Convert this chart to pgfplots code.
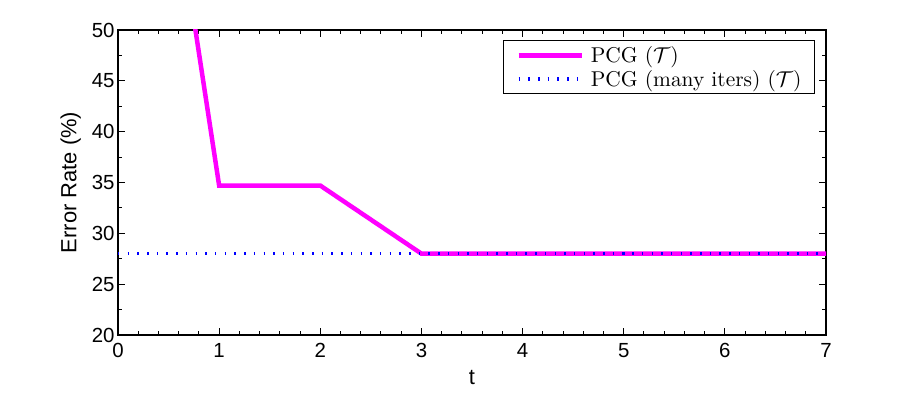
\documentclass[border=0pt]{standalone}
\usepackage{fontspec}
\setsansfont{Liberation Sans}
\usepackage{graphicx}
\usepackage{pgfplots}
\pgfplotsset{compat=1.18}
\definecolor{pcgmag}{RGB}{255,0,255}
\definecolor{pcgblue}{RGB}{0,0,255}
\pgfplotsset{longlegend/.style={legend image code/.code={\draw[##1] (0bp,0bp) -- (63bp,0bp);}}}
% text is 10pt type blown up, as in the exported figure
\newcommand{\legtxt}[1]{\scalebox{2.15}{#1}}
\newcommand{\labtxt}[1]{\scalebox{2.2}{\sffamily #1}}

\begin{document}
\begin{tikzpicture}
  % fixes the page to the reference's 913x394 frame (1px = 1bp)
  \path (-118bp,-59bp) rectangle (795bp,335bp);
  \begin{axis}[
    at={(0,0)}, anchor=south west,
    scale only axis,
    width=708bp, height=305bp,
    xmin=0, xmax=7, ymin=20, ymax=50,
    xtick={0,1,...,7}, ytick={20,25,...,50},
    minor x tick num=4, minor y tick num=1,
    tick align=inside,
    major tick length=7bp, minor tick length=4bp,
    every tick/.style={black, line width=1bp},
    axis line style={line width=1.3bp},
    tick label style={font=\fontsize{20.5}{24}\sffamily\selectfont},
    xticklabel style={yshift=-5bp},
    /pgf/number format/assume math mode=true,
    xlabel={\labtxt{t}}, ylabel={\labtxt{Error Rate (\%)}},
    xlabel style={yshift=-6bp},
    ylabel style={yshift=4bp},
    legend cell align=left,
    legend style={at={(rel axis cs:0.9845,0.967)}, anchor=north east,
      draw=black, line width=1.3bp, font=\normalsize,
      nodes={inner sep=0bp}, inner xsep=13bp, inner ysep=6bp,
      row sep=6bp, column sep=7bp},
  ]
    \addplot[pcgmag, line width=4.5bp, longlegend] coordinates {
      (0,100) (1,34.7) (2,34.7) (3,28) (4,28) (5,28) (6,28) (7,28)
    };
    \addlegendentry{\legtxt{PCG ($\mathcal{T}$)}}
    \addplot[pcgblue, line width=3.5bp, dash pattern=on 1.5bp off 8.2bp, longlegend] coordinates {
      (0,28) (1,28) (2,28) (3,28) (4,28) (5,28) (6,28) (7,28)
    };
    \addlegendentry{\legtxt{PCG (many iters) ($\mathcal{T}$)}}
  \end{axis}
\end{tikzpicture}
\end{document}
